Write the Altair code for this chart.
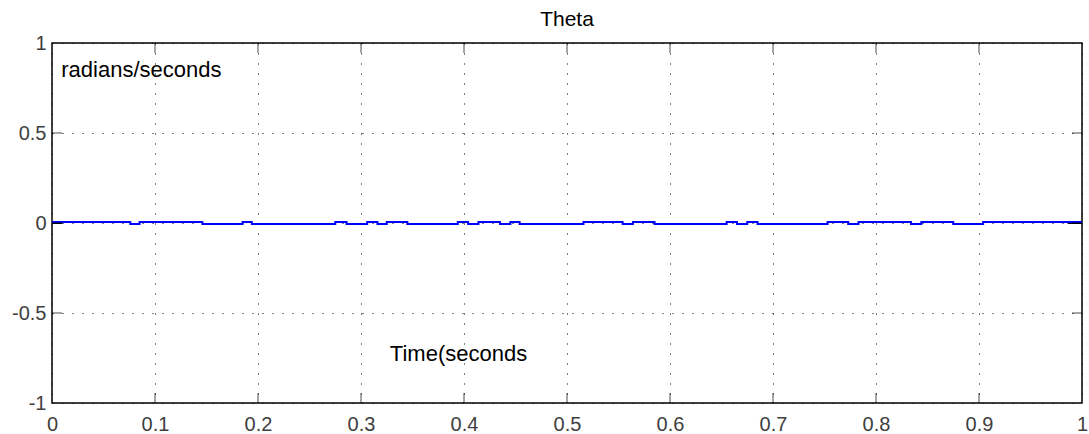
import altair as alt
import pandas as pd

# Step signal (seconds, radians/seconds)
step_times = [0, 0.076, 0.085, 0.146, 0.185, 0.194, 0.275, 0.286, 0.306, 0.316,
              0.325, 0.345, 0.394, 0.404, 0.414, 0.435, 0.445, 0.454, 0.516, 0.554,
              0.564, 0.585, 0.655, 0.665, 0.675, 0.685, 0.753, 0.773, 0.783, 0.834,
              0.844, 0.875, 0.904, 1.0]
step_values = [0.005, -0.005, 0.005, -0.005, 0.005, -0.005, 0.005, -0.005, 0.005, -0.005,
               0.005, -0.005, 0.005, -0.005, 0.005, -0.005, 0.005, -0.005, 0.005, -0.005,
               0.005, -0.005, 0.005, -0.005, 0.005, -0.005, 0.005, -0.005, 0.005, -0.005,
               0.005, -0.005, 0.005, 0.005]

# short black trace visible at both ends
black_times = [0, 0.01, 0.986, 1.0]
black_values = [0, 0, 0, 0]
black_segment = ["a", "a", "b", "b"]

x_tick_values = [0, 0.1, 0.2, 0.3, 0.4, 0.5, 0.6, 0.7, 0.8, 0.9, 1.0]
y_tick_values = [-1, -0.5, 0, 0.5, 1]
x_inner_ticks = [0.1, 0.2, 0.3, 0.4, 0.5, 0.6, 0.7, 0.8, 0.9]
y_inner_ticks = [-0.5, 0, 0.5]

FONT = "Liberation Sans"

sig = pd.DataFrame({"t": step_times, "v": step_values})
blk = pd.DataFrame({"t": black_times, "v": black_values, "seg": black_segment})
xt = pd.DataFrame({"t": x_inner_ticks})
yt = pd.DataFrame({"v": y_inner_ticks})

xscale = alt.Scale(domain=[0, 1], nice=False, zero=False)
yscale = alt.Scale(domain=[-1, 1], nice=False, zero=False)

grid_style = dict(grid=True, gridColor="black", gridDash=[1, 9], gridWidth=1,
                  gridOpacity=1)

xaxis = alt.Axis(values=x_tick_values, labelExpr="'' + datum.value", title=None,
                 ticks=False, domain=False, labelFont=FONT, labelFontSize=20,
                 labelColor="#404040", labelPadding=11, labelFlush=False, **grid_style)
yaxis = alt.Axis(values=y_tick_values, labelExpr="'' + datum.value", title=None,
                 ticks=False, domain=False, labelFont=FONT, labelFontSize=20,
                 labelColor="#404040", labelPadding=6, **grid_style)

base_black = alt.Chart(blk).mark_line(color="black", strokeWidth=2).encode(
    x=alt.X("t:Q", scale=xscale, axis=xaxis),
    y=alt.Y("v:Q", scale=yscale, axis=yaxis),
    detail="seg:N",
)

line = alt.Chart(sig).mark_line(color="#0000ff", strokeWidth=2,
                                interpolate="step-after").encode(
    x=alt.X("t:Q", scale=xscale),
    y=alt.Y("v:Q", scale=yscale),
)

bottom_ticks = alt.Chart(xt).mark_tick(orient="vertical", size=10, thickness=1,
                                       color="black", yOffset=-5).encode(
    x=alt.X("t:Q", scale=xscale), y=alt.datum(-1))
top_ticks = alt.Chart(xt).mark_tick(orient="vertical", size=10, thickness=1,
                                    color="black", yOffset=5).encode(
    x=alt.X("t:Q", scale=xscale), y=alt.datum(1))
left_ticks = alt.Chart(yt).mark_tick(orient="horizontal", size=10, thickness=1,
                                     color="black", xOffset=5).encode(
    y=alt.Y("v:Q", scale=yscale), x=alt.datum(0))
right_ticks = alt.Chart(yt).mark_tick(orient="horizontal", size=10, thickness=1,
                                      color="black", xOffset=-5).encode(
    y=alt.Y("v:Q", scale=yscale), x=alt.datum(1))

label1 = alt.Chart().mark_text(text="radians/seconds", align="left", baseline="middle",
                               font=FONT, fontSize=22, color="black").encode(
    x=alt.datum(0.009), y=alt.datum(0.85))
label2 = alt.Chart().mark_text(text="Time(seconds", align="left", baseline="middle",
                               font=FONT, fontSize=22, color="black").encode(
    x=alt.datum(0.328), y=alt.datum(-0.73))

chart = alt.layer(
    base_black, line, bottom_ticks, top_ticks, left_ticks, right_ticks, label1, label2
).properties(
    width=1030, height=360,
    background="white",
    title=alt.TitleParams("Theta", font=FONT, fontSize=21, fontWeight="normal",
                          color="black", anchor="middle", offset=3),
    autosize=alt.AutoSizeParams(type="none"),
    padding={"left": 52, "top": 43, "right": 7, "bottom": 31},
).configure_view(
    stroke="black", strokeWidth=1.5
)

chart.save("out.html", embed_options={"renderer": "svg", "actions": False})
